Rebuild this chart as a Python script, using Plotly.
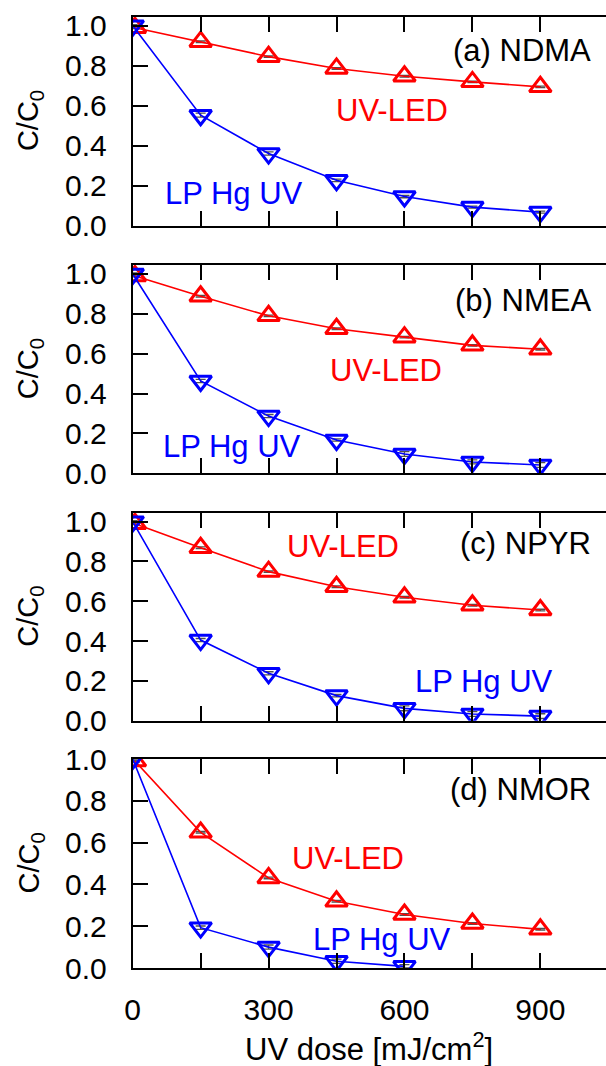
import plotly.graph_objects as go

# ---------------- data ----------------
dose = [0, 150, 300, 450, 600, 750, 900]
dose_led = [5, 150, 300, 450, 600, 750, 900]
dose_hg_d = [0, 150, 300, 450, 600]

panel_labels = ["(a) NDMA", "(b) NMEA", "(c) NPYR", "(d) NMOR"]

led_a = [0.99, 0.920, 0.845, 0.786, 0.747, 0.719, 0.694]
hg_a = [1.00, 0.552, 0.360, 0.226, 0.145, 0.092, 0.067]
led_b = [0.99, 0.888, 0.790, 0.725, 0.683, 0.642, 0.622]
hg_b = [1.00, 0.463, 0.287, 0.167, 0.097, 0.057, 0.042]
led_c = [0.99, 0.869, 0.749, 0.673, 0.620, 0.580, 0.556]
hg_c = [1.00, 0.405, 0.238, 0.126, 0.062, 0.034, 0.023]
led_d = [0.99, 0.649, 0.431, 0.319, 0.256, 0.213, 0.185]
hg_d = [1.00, 0.193, 0.100, 0.032, 0.008]

led_err_a = [0.005, 0.004, 0.004, 0.004, 0.004, 0.004, 0.004]
hg_err_a = [0.005, 0.010, 0.008, 0.006, 0.006, 0.005, 0.005]
led_err_b = [0.005, 0.004, 0.004, 0.004, 0.004, 0.004, 0.004]
hg_err_b = [0.005, 0.008, 0.008, 0.006, 0.012, 0.010, 0.012]
led_err_c = [0.005, 0.004, 0.004, 0.004, 0.004, 0.004, 0.004]
hg_err_c = [0.005, 0.008, 0.008, 0.006, 0.012, 0.012, 0.012]
led_err_d = [0.005, 0.004, 0.004, 0.004, 0.004, 0.004, 0.004]
hg_err_d = [0.005, 0.008, 0.010, 0.010, 0.008]

x_tickvals = [0, 150, 300, 450, 600, 750, 900, 1050]
x_ticktext = ["0", "", "300", "", "600", "", "900", ""]
y_tickvals = [0.0, 0.2, 0.4, 0.6, 0.8, 1.0]
y_ticktext = ["0.0", "0.2", "0.4", "0.6", "0.8", "1.0"]

# label positions (data coords) per panel
led_label_pos = [(572, 0.578), (559, 0.517), (464, 0.874), (475, 0.526)]
hg_label_pos = [(224, 0.158), (219, 0.133), (776, 0.196), (550, 0.134)]
panel_label_y = [0.878, 0.867, 0.888, 0.852]

series = [
    (dose_led, led_a, led_err_a, dose, hg_a, hg_err_a),
    (dose_led, led_b, led_err_b, dose, hg_b, hg_err_b),
    (dose_led, led_c, led_err_c, dose, hg_c, hg_err_c),
    (dose_led, led_d, led_err_d, dose_hg_d, hg_d, hg_err_d),
]

# ---------------- layout geometry ----------------
W, H = 606, 1066
LEFT_PX = 132.7
panel_px = [(16.7, 225.5), (265.0, 473.3), (512.7, 720.7), (759.0, 968.0)]
y_ranges = [[0, 1.045], [0, 1.045], [0, 1.045], [0, 1.0]]
X_RANGE = [0, 1045]

FONT = "Liberation Sans, Arial, sans-serif"
RED = "#ff0000"
BLUE = "#0000ff"
ERR = "#505050"

fig = go.Figure()
layout = dict(
    template="none",
    width=W, height=H,
    margin=dict(l=0, r=0, t=0, b=0, autoexpand=False),
    paper_bgcolor="white", plot_bgcolor="white",
    showlegend=False,
    font=dict(family=FONT, size=30, color="black"),
)
annotations = []

for i, (xl, yl, el, xh, yh, eh) in enumerate(series):
    n = i + 1
    xa = "x" if n == 1 else f"x{n}"
    ya = "y" if n == 1 else f"y{n}"
    top, bot = panel_px[i]
    dom = [1 - bot / H, 1 - top / H]

    fig.add_trace(go.Scatter(
        x=xl, y=yl, xaxis=xa, yaxis=ya, mode="lines+markers",
        line=dict(color=RED, width=1.6),
        marker=dict(symbol="triangle-up-open", size=19, color=RED,
                    line=dict(color=RED, width=3)),
        error_y=dict(type="data", array=el, visible=True, color=ERR,
                     thickness=1.3, width=5),
    ))
    fig.add_trace(go.Scatter(
        x=xh, y=yh, xaxis=xa, yaxis=ya, mode="lines+markers",
        line=dict(color=BLUE, width=1.6),
        marker=dict(symbol="triangle-down-open", size=19, color=BLUE,
                    line=dict(color=BLUE, width=3)),
        error_y=dict(type="data", array=eh, visible=True, color=ERR,
                     thickness=1.3, width=5),
    ))

    last = (i == len(series) - 1)
    layout[f"xaxis{n}"] = dict(
        domain=[LEFT_PX / W, 1], anchor=ya, range=X_RANGE,
        tickmode="array", tickvals=x_tickvals, ticktext=x_ticktext,
        showticklabels=last, ticks="inside", ticklen=15, tickwidth=2,
        tickcolor="black", showline=True, linewidth=2, linecolor="black",
        mirror="ticks", showgrid=False, zeroline=False, automargin=False,
        ticklabelstandoff=14, tickfont=dict(size=30),
    )
    layout[f"yaxis{n}"] = dict(
        domain=dom, anchor=xa, range=y_ranges[i],
        tickmode="array", tickvals=y_tickvals, ticktext=y_ticktext,
        ticks="inside", ticklen=15, tickwidth=2, tickcolor="black",
        showline=True, linewidth=2, linecolor="black", mirror=False,
        showgrid=False, zeroline=False, ticklabelstandoff=18,
        automargin=False, tickfont=dict(size=30),
    )
    # right-hand ticks without a visible spine
    m = n + 4
    layout[f"yaxis{m}"] = dict(
        overlaying=ya, anchor=xa, side="right", range=y_ranges[i],
        tickmode="array", tickvals=y_tickvals, ticks="inside", ticklen=15,
        tickwidth=2, tickcolor="black", showticklabels=False,
        showline=False, showgrid=False, zeroline=False, automargin=False,
    )

    # texts
    annotations.append(dict(
        x=led_label_pos[i][0], y=led_label_pos[i][1], xref=xa, yref=ya,
        text="UV-LED", showarrow=False, xanchor="center", yanchor="middle",
        font=dict(size=31, color=RED, family=FONT)))
    annotations.append(dict(
        x=hg_label_pos[i][0], y=hg_label_pos[i][1], xref=xa, yref=ya,
        text="LP Hg UV", showarrow=False, xanchor="center", yanchor="middle",
        font=dict(size=31, color=BLUE, family=FONT)))
    annotations.append(dict(
        x=1016, y=panel_label_y[i], xref=xa, yref=ya,
        text=panel_labels[i], showarrow=False, xanchor="right",
        yanchor="middle", font=dict(size=31, color="black", family=FONT)))
    annotations.append(dict(
        x=30 / W, y=1 - ((top + bot) / 2) / H, xref="paper", yref="paper",
        text="C/C<sub>0</sub>", showarrow=False, textangle=-90,
        xanchor="center", yanchor="middle",
        font=dict(size=29, color="black", family=FONT)))

annotations.append(dict(
    x=(LEFT_PX + W) / 2 / W, y=1 - 1047 / H, xref="paper", yref="paper",
    text="UV dose [mJ/cm<sup>2</sup>]", showarrow=False,
    xanchor="center", yanchor="middle",
    font=dict(size=31, color="black", family=FONT)))

layout["annotations"] = annotations
fig.update_layout(**layout)
fig.write_html("out.html")
